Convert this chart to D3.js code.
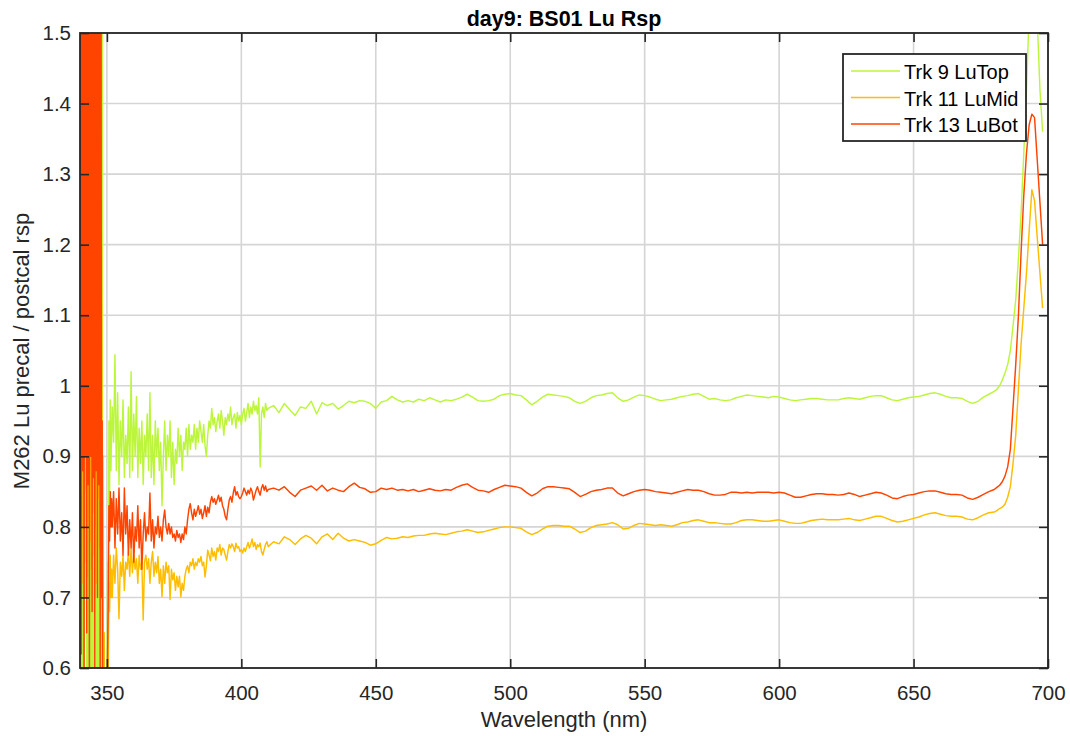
<!DOCTYPE html>
<html><head><meta charset="utf-8">
<script src="https://cdn.jsdelivr.net/npm/d3@7"></script>
<style>body{margin:0;background:#fff;} text{font-family:"Liberation Sans",Arial,Helvetica,sans-serif;}</style>
</head><body><svg id="chart" width="1070" height="736"></svg>
<script>
// wavelength sampling segments: [start, end, step] (nm)
const wlSegments = [[340, 351.75, 0.25], [352, 409.5, 0.5], [410, 678, 2], [680, 698, 1]];

// Trk 9 LuTop
const trk9A = [1.24, 2.0, 0.4, 1.9, 0.5, 1.8, 0.45, 2.1, 0.7, 1.7,
 0.5, 2.2, 0.4, 1.9, 0.55, 2.0, 0.6, 1.8, 0.5, 1.9,
 0.45, 2.0, 0.7, 1.7, 0.5, 2.1, 0.6, 1.8, 0.5, 1.9,
 0.55, 2.0, 0.8, 1.6, 0.3, 0.5, 0.2, 0.45, 0.3, 0.55,
 0.4, 0.75, 0.62, 0.95, 0.85, 0.98, 0.88, 0.93];
const trk9B = [0.97, 0.92, 1.044, 0.88, 0.99, 0.86, 0.95, 0.9, 0.98, 0.87,
 0.93, 0.89, 0.97, 0.87, 1.02, 0.88, 0.96, 0.9, 0.985, 0.87,
 0.94, 0.89, 0.95, 0.86, 0.93, 0.9, 0.96, 0.88, 0.99, 0.87,
 0.93, 0.86, 0.95, 0.9, 0.94, 0.88, 0.92, 0.83, 0.9, 0.95,
 0.88, 0.93, 0.9, 0.95, 0.87, 0.92, 0.86, 0.91, 0.89, 0.94,
 0.9, 0.93, 0.88, 0.92, 0.91, 0.94, 0.9, 0.945, 0.91, 0.93,
 0.92, 0.945, 0.91, 0.94, 0.92, 0.95, 0.935, 0.92, 0.945, 0.915,
 0.9, 0.93, 0.95, 0.94, 0.968, 0.945, 0.955, 0.935, 0.95, 0.96,
 0.94, 0.965, 0.95, 0.93, 0.955, 0.945, 0.96, 0.95, 0.97, 0.945,
 0.955, 0.96, 0.94, 0.962, 0.95, 0.958, 0.945, 0.96, 0.968, 0.95,
 0.962, 0.975, 0.955, 0.97, 0.96, 0.978, 0.965, 0.972, 0.96, 0.983,
 0.885, 0.96, 0.97, 0.955, 0.975, 0.965];
const trk9C = [0.968, 0.972, 0.962, 0.975, 0.966, 0.958, 0.97, 0.968, 0.978, 0.96,
 0.976, 0.972, 0.975, 0.967, 0.972, 0.978, 0.976, 0.979, 0.978, 0.975,
 0.968, 0.977, 0.979, 0.985, 0.98, 0.977, 0.979, 0.977, 0.981, 0.979,
 0.983, 0.98, 0.977, 0.98, 0.979, 0.981, 0.984, 0.988, 0.984, 0.979,
 0.978, 0.979, 0.981, 0.986, 0.988, 0.989, 0.987, 0.986, 0.98, 0.973,
 0.978, 0.984, 0.988, 0.987, 0.986, 0.985, 0.983, 0.978, 0.975, 0.978,
 0.983, 0.986, 0.987, 0.989, 0.99, 0.983, 0.978, 0.98, 0.984, 0.987,
 0.986, 0.984, 0.981, 0.979, 0.98, 0.981, 0.983, 0.985, 0.986, 0.988,
 0.989, 0.985, 0.981, 0.982, 0.98, 0.979, 0.98, 0.983, 0.985, 0.987,
 0.986, 0.985, 0.984, 0.983, 0.985, 0.984, 0.982, 0.98, 0.979, 0.98,
 0.981, 0.982, 0.982, 0.981, 0.98, 0.98, 0.98, 0.982, 0.983, 0.982,
 0.981, 0.983, 0.985, 0.986, 0.986, 0.983, 0.98, 0.979, 0.981, 0.983,
 0.984, 0.985, 0.987, 0.989, 0.99, 0.988, 0.985, 0.983, 0.983, 0.982,
 0.978, 0.975, 0.978, 0.984, 0.988];
const trk9D = [0.992, 0.995, 1.0, 1.008, 1.018, 1.03, 1.05, 1.085, 1.122, 1.18,
 1.245, 1.33, 1.42, 1.53, 1.65, 1.62, 1.52, 1.42, 1.36];

// Trk 11 LuMid
const trk11A = [1.1, 0.55, 1.8, 0.72, 1.7, 0.8, 2.0, 0.75, 1.6, 0.85,
 1.9, 0.73, 1.7, 0.8, 2.0, 0.78, 1.8, 0.74, 1.6, 0.82,
 1.9, 0.76, 1.7, 0.8, 2.0, 0.72, 1.8, 0.84, 1.6, 0.77,
 1.9, 0.7, 1.2, 0.6, 0.9, 0.5, 0.65, 0.3, 0.55, 0.4,
 0.5, 0.3, 0.6, 0.72, 0.68, 0.76, 0.7, 0.74];
const trk11B = [0.7, 0.76, 0.72, 0.77, 0.74, 0.67, 0.75, 0.73, 0.76, 0.71,
 0.75, 0.74, 0.765, 0.73, 0.77, 0.735, 0.76, 0.74, 0.755, 0.72,
 0.76, 0.74, 0.75, 0.668, 0.75, 0.76, 0.74, 0.755, 0.72, 0.75,
 0.765, 0.73, 0.75, 0.735, 0.758, 0.72, 0.74, 0.701, 0.745, 0.72,
 0.75, 0.735, 0.745, 0.697, 0.74, 0.725, 0.735, 0.71, 0.73, 0.715,
 0.73, 0.701, 0.72, 0.71, 0.73, 0.74, 0.745, 0.735, 0.75, 0.745,
 0.755, 0.74, 0.75, 0.745, 0.755, 0.75, 0.758, 0.745, 0.75, 0.729,
 0.745, 0.767, 0.76, 0.752, 0.77, 0.758, 0.765, 0.753, 0.77, 0.765,
 0.775, 0.76, 0.77, 0.768, 0.76, 0.753, 0.765, 0.775, 0.77, 0.776,
 0.772, 0.765, 0.777, 0.77, 0.772, 0.765, 0.768, 0.763, 0.77, 0.765,
 0.772, 0.778, 0.77, 0.775, 0.783, 0.772, 0.778, 0.768, 0.775, 0.772,
 0.777, 0.765, 0.76, 0.768, 0.775, 0.779];
const trk11C = [0.772, 0.779, 0.776, 0.786, 0.782, 0.775, 0.783, 0.788, 0.784, 0.776,
 0.786, 0.79, 0.782, 0.791, 0.784, 0.78, 0.782, 0.78, 0.778, 0.774,
 0.776, 0.781, 0.785, 0.783, 0.784, 0.786, 0.785, 0.787, 0.788, 0.788,
 0.79, 0.791, 0.79, 0.789, 0.791, 0.793, 0.794, 0.796, 0.794, 0.792,
 0.793, 0.795, 0.797, 0.799, 0.8, 0.8, 0.799, 0.798, 0.793, 0.789,
 0.792, 0.797, 0.801, 0.802, 0.802, 0.801, 0.801, 0.797, 0.792, 0.794,
 0.799, 0.802, 0.803, 0.804, 0.806, 0.803, 0.797, 0.798, 0.802, 0.805,
 0.804, 0.803, 0.802, 0.803, 0.802, 0.801, 0.803, 0.806, 0.807, 0.809,
 0.81, 0.808, 0.806, 0.806, 0.805, 0.804, 0.804, 0.806, 0.809, 0.81,
 0.81, 0.809, 0.808, 0.808, 0.809, 0.81, 0.808, 0.806, 0.805, 0.805,
 0.807, 0.809, 0.81, 0.811, 0.81, 0.81, 0.81, 0.811, 0.812, 0.81,
 0.809, 0.811, 0.813, 0.815, 0.815, 0.812, 0.809, 0.807, 0.808, 0.81,
 0.812, 0.814, 0.817, 0.819, 0.82, 0.818, 0.816, 0.815, 0.815, 0.814,
 0.811, 0.81, 0.813, 0.817, 0.82];
const trk11D = [0.821, 0.823, 0.826, 0.828, 0.832, 0.842, 0.857, 0.89, 0.93, 0.995,
 1.06, 1.11, 1.16, 1.22, 1.278, 1.262, 1.21, 1.16, 1.11];

// Trk 13 LuBot
const trk13A = [0.8, 2.2, 0.62, 2.0, 0.88, 2.3, 0.5, 1.9, 0.9, 2.1,
 0.65, 2.2, 0.86, 2.0, 0.55, 2.3, 0.9, 1.9, 0.68, 2.1,
 0.87, 2.2, 0.6, 2.0, 0.88, 2.3, 0.7, 1.9, 0.86, 2.1,
 0.58, 2.0, 0.7, 0.95, 0.4, 0.6, 0.3, 0.55, 0.35, 0.5,
 0.45, 0.62, 0.7, 0.83, 0.78, 0.85, 0.8, 0.84];
const trk13B = [0.8, 0.85, 0.77, 0.84, 0.79, 0.855, 0.78, 0.82, 0.76, 0.855,
 0.79, 0.83, 0.76, 0.81, 0.77, 0.82, 0.75, 0.8, 0.78, 0.83,
 0.77, 0.81, 0.74, 0.79, 0.82, 0.78, 0.8, 0.79, 0.848, 0.78,
 0.81, 0.77, 0.8, 0.79, 0.815, 0.785, 0.8, 0.78, 0.81, 0.824,
 0.8, 0.79, 0.805, 0.79, 0.8, 0.785, 0.79, 0.78, 0.795, 0.785,
 0.79, 0.778, 0.79, 0.782, 0.8, 0.79, 0.81, 0.825, 0.833, 0.82,
 0.81, 0.825, 0.815, 0.822, 0.83, 0.818, 0.825, 0.812, 0.82, 0.83,
 0.815, 0.828, 0.82, 0.835, 0.843, 0.835, 0.84, 0.832, 0.838, 0.845,
 0.836, 0.842, 0.83, 0.825, 0.815, 0.81, 0.825, 0.838, 0.843, 0.835,
 0.848, 0.857, 0.845, 0.85, 0.843, 0.84, 0.843, 0.848, 0.855, 0.85,
 0.845, 0.852, 0.847, 0.855, 0.85, 0.838, 0.845, 0.852, 0.857, 0.85,
 0.845, 0.855, 0.86, 0.852, 0.858, 0.85];
const trk13C = [0.853, 0.855, 0.852, 0.857, 0.849, 0.843, 0.852, 0.855, 0.858, 0.852,
 0.859, 0.851, 0.855, 0.852, 0.85, 0.857, 0.862, 0.856, 0.854, 0.849,
 0.85, 0.855, 0.853, 0.855, 0.852, 0.853, 0.851, 0.853, 0.85, 0.852,
 0.854, 0.852, 0.851, 0.853, 0.852, 0.856, 0.859, 0.861, 0.856, 0.852,
 0.851, 0.849, 0.853, 0.856, 0.859, 0.858, 0.857, 0.855, 0.849, 0.844,
 0.848, 0.854, 0.857, 0.857, 0.856, 0.855, 0.854, 0.849, 0.843, 0.846,
 0.85, 0.852, 0.853, 0.855, 0.855, 0.848, 0.844, 0.847, 0.85, 0.852,
 0.853, 0.852, 0.85, 0.849, 0.848, 0.847, 0.849, 0.851, 0.853, 0.852,
 0.852, 0.85, 0.847, 0.845, 0.845, 0.846, 0.849, 0.849, 0.848, 0.849,
 0.848, 0.849, 0.849, 0.849, 0.848, 0.849, 0.848, 0.845, 0.842, 0.842,
 0.844, 0.846, 0.847, 0.847, 0.846, 0.846, 0.845, 0.846, 0.848, 0.846,
 0.843, 0.845, 0.847, 0.849, 0.848, 0.845, 0.841, 0.84, 0.843, 0.845,
 0.846, 0.848, 0.85, 0.851, 0.851, 0.849, 0.847, 0.846, 0.846, 0.845,
 0.841, 0.839, 0.842, 0.846, 0.85];
const trk13D = [0.853, 0.856, 0.859, 0.864, 0.872, 0.885, 0.91, 0.97, 1.03, 1.1,
 1.19, 1.27, 1.33, 1.37, 1.385, 1.38, 1.32, 1.26, 1.2];

const seriesNames = ["Trk 9 LuTop", "Trk 11 LuMid", "Trk 13 LuBot"];
const seriesColors = ["#bcf63c", "#ffbd00", "#ff4400"];
const xTicks = [350, 400, 450, 500, 550, 600, 650, 700];
const yTicks = [0.6, 0.7, 0.8, 0.9, 1.0, 1.1, 1.2, 1.3, 1.4, 1.5];
const yTickLabels = ["0.6", "0.7", "0.8", "0.9", "1", "1.1", "1.2", "1.3", "1.4", "1.5"];

const wavelengths = [].concat(...wlSegments.map(([a, b, s]) => d3.range(0, Math.round((b - a) / s) + 1).map(i => a + i * s)));
const seriesValues = [
  [].concat(trk9A, trk9B, trk9C, trk9D),
  [].concat(trk11A, trk11B, trk11C, trk11D),
  [].concat(trk13A, trk13B, trk13C, trk13D)
];

const L = 80, R = 1048, T = 33, B = 668;
const x = d3.scaleLinear().domain([340, 700]).range([L, R]);
const y = d3.scaleLinear().domain([0.6, 1.5]).range([B, T]);
const ink = "#262626";

const svg = d3.select("#chart");
svg.append("rect").attr("width", 1070).attr("height", 736).attr("fill", "#fff");

// grid
const grid = svg.append("g");
grid.selectAll("line.gx").data(xTicks).join("line").attr("class", "gx")
  .attr("x1", d => x(d)).attr("x2", d => x(d)).attr("y1", T).attr("y2", B)
  .attr("stroke", "#d5d5d5").attr("stroke-width", 1.6);
grid.selectAll("line.gy").data(yTicks).join("line").attr("class", "gy")
  .attr("x1", L).attr("x2", R).attr("y1", d => y(d)).attr("y2", d => y(d))
  .attr("stroke", "#d5d5d5").attr("stroke-width", 1.6);

// clip
svg.append("defs").append("clipPath").attr("id", "plotclip")
  .append("rect").attr("x", L).attr("y", T).attr("width", R - L).attr("height", B - T);

const line = d3.line().x(d => x(d[0])).y(d => y(d[1]));
const gLines = svg.append("g").attr("clip-path", "url(#plotclip)");
seriesValues.forEach((vals, k) => {
  const pts = wavelengths.map((w, i) => [w, vals[i]]).filter(p => p[1] !== undefined);
  gLines.append("path").datum(pts).attr("d", line)
    .attr("fill", "none").attr("stroke", seriesColors[k])
    .attr("stroke-width", 1.45).attr("stroke-linejoin", "round");
});

// axes
const fmtY = d => yTickLabels[yTicks.indexOf(d)];
const ax = svg.append("g").attr("transform", `translate(0,${B})`)
  .call(d3.axisBottom(x).tickValues(xTicks).tickSize(-9).tickPadding(17).tickFormat(d3.format("d")));
const ay = svg.append("g").attr("transform", `translate(${L},0)`)
  .call(d3.axisLeft(y).tickValues(yTicks).tickSize(-9).tickPadding(9).tickFormat(fmtY));
const at = svg.append("g").attr("transform", `translate(0,${T})`)
  .call(d3.axisTop(x).tickValues(xTicks).tickSize(-9).tickFormat(""));
const ar = svg.append("g").attr("transform", `translate(${R},0)`)
  .call(d3.axisRight(y).tickValues(yTicks).tickSize(-9).tickFormat(""));
[ax, ay, at, ar].forEach(g => {
  g.select(".domain").remove();
  g.selectAll(".tick line").attr("stroke", ink).attr("stroke-width", 1.6);
  g.selectAll(".tick text").attr("fill", ink).style("font-size", "20.5px")
    .style("font-family", "'Liberation Sans', Arial, sans-serif");
});
svg.append("rect").attr("x", L).attr("y", T).attr("width", R - L).attr("height", B - T)
  .attr("fill", "none").attr("stroke", ink).attr("stroke-width", 1.8);

// labels
svg.append("text").attr("x", 564).attr("y", 26).attr("text-anchor", "middle")
  .style("font-size", "21.5px").style("font-weight", "bold").attr("fill", "#000")
  .text("day9: BS01 Lu Rsp");
svg.append("text").attr("x", 564).attr("y", 727).attr("text-anchor", "middle")
  .style("font-size", "22px").attr("fill", ink).text("Wavelength (nm)");
svg.append("text").attr("transform", "translate(29,351) rotate(-90)").attr("text-anchor", "middle")
  .style("font-size", "22px").attr("fill", ink).text("M262 Lu precal / postcal rsp");

// legend
const lg = svg.append("g");
lg.append("rect").attr("x", 843).attr("y", 54).attr("width", 183).attr("height", 87)
  .attr("fill", "#fff").attr("stroke", ink).attr("stroke-width", 1.8);
seriesNames.forEach((n, k) => {
  const cy = 71 + k * 26.5;
  lg.append("line").attr("x1", 851).attr("x2", 900).attr("y1", cy).attr("y2", cy)
    .attr("stroke", seriesColors[k]).attr("stroke-width", 1.3);
  lg.append("text").attr("x", 904).attr("y", cy + 8).style("font-size", "20px")
    .attr("fill", "#000").text(n);
});
</script></body></html>
